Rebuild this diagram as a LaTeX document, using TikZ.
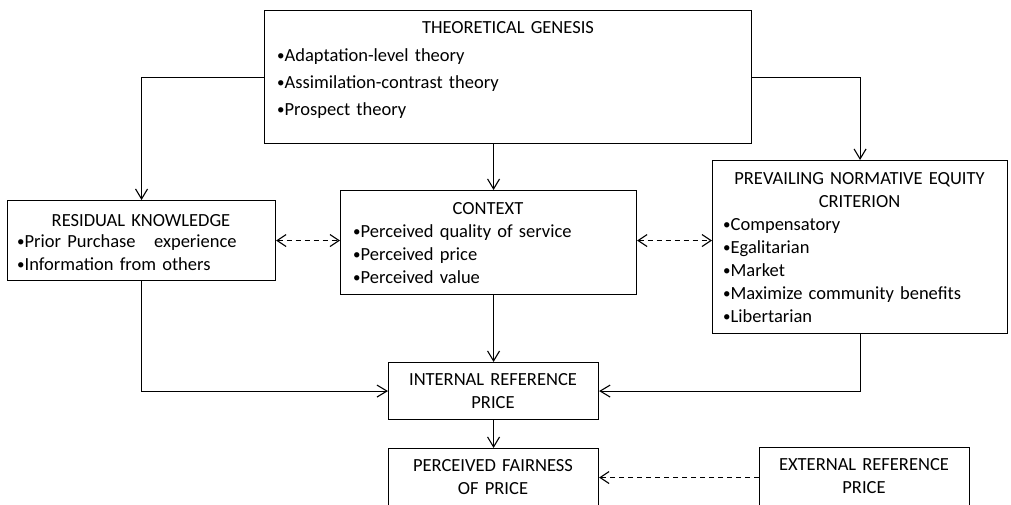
\documentclass[tikz,border=0pt]{standalone}
\usepackage{fontspec}
\setmainfont{Carlito}
\usetikzlibrary{arrows.meta,calc}
\newcommand\bul{\raisebox{0.8pt}{\fontsize{15}{15}\selectfont•}}
\begin{document}
\begin{tikzpicture}[x=1pt,y=-1pt,
  box/.style={draw=black, line width=1.1pt, rectangle, inner sep=0pt, anchor=north west},
  ttl/.style={inner sep=0pt, anchor=base, align=center, text width=#1, font=\fontsize{18.5}{23}\selectfont},
  ttl/.default=280pt,
  txt/.style={inner sep=0pt, anchor=base west, align=left, text width=#1, font=\fontsize{18.5}{23}\selectfont},
  txt/.default=280pt,
  arr/.style={line width=1.1pt, -{Straight Barb[length=10pt,width=12pt,line width=1.1pt]}},
  darr/.style={line width=1.1pt, dash pattern=on 5pt off 4pt, {Straight Barb[length=9pt,width=12pt,line width=1.1pt]}-{Straight Barb[length=9pt,width=12pt,line width=1.1pt]}}
]
\useasboundingbox (0,0) rectangle (1011,504);
\fill[white] (0,0) rectangle (1011,504);

% boxes
\node[box, minimum width=487pt, minimum height=133pt] (tg) at (264,10) {};
\node[box, minimum width=268pt, minimum height=80pt] (rk) at (7,200) {};
\node[box, minimum width=296pt, minimum height=104pt] (ctx) at (340,190) {};
\node[box, minimum width=295pt, minimum height=173pt] (pn) at (712,160) {};
\node[box, minimum width=210pt, minimum height=57pt] (ir) at (388,362) {};
\node[box, minimum width=210pt, minimum height=58pt] (pf) at (388,448) {};
\node[box, minimum width=210pt, minimum height=59pt] (ext) at (759,447) {};

% texts
\node[ttl] (tgh) at (508,33) {THEORETICAL GENESIS};
\node[txt, font=\fontsize{18.5}{27}\selectfont] (tgb) at (277,61) {\bul Adaptation-level theory\\\bul Assimilation-contrast theory\\\bul Prospect theory};

\node[ttl] (rkh) at (141,226) {RESIDUAL KNOWLEDGE};
\node[txt] (rkb) at (17,247) {\bul Prior Purchase\ \ \ experience\\\bul Information from others};

\node[ttl] (ctxh) at (488,214) {CONTEXT};
\node[txt] (ctxb) at (353,237) {\bul Perceived quality of service\\\bul Perceived price\\\bul Perceived value};

\node[ttl] (pnh) at (859.5,184) {PREVAILING NORMATIVE EQUITY\\CRITERION};
\node[txt] (pnb) at (723,230) {\bul Compensatory\\\bul Egalitarian\\\bul Market\\\bul Maximize community benefits\\\bul Libertarian};

\node[ttl] (irh) at (493,385) {INTERNAL REFERENCE\\PRICE};
\node[ttl] (pfh) at (493,471) {PERCEIVED FAIRNESS\\OF PRICE};
\node[ttl] (exth) at (864,470) {EXTERNAL REFERENCE\\PRICE};

% connectors
\draw[arr] (tg.west) -| (rk.north);
\draw[arr] (tg.east) -| (pn.north);
\draw[arr] (tg.south -| ir.north) -- (ctx.north -| ir.north);
\draw[arr] (ctx.south -| ir.north) -- (ir.north);
\draw[arr] (ir.south) -- (pf.north);
\draw[arr] (rk.south) |- (ir.west);
\draw[arr] (pn.south) |- (ir.east);
\draw[darr] (rk.east) -- (rk.east -| ctx.west);
\draw[darr] (ctx.east |- rk.east) -- (pn.west |- rk.east);
\draw[line width=1.1pt, dash pattern=on 5pt off 4pt, -{Straight Barb[length=9pt,width=12pt,line width=1.1pt]}] (ext.west |- pf.east) -- (pf.east);
\end{tikzpicture}
\end{document}
